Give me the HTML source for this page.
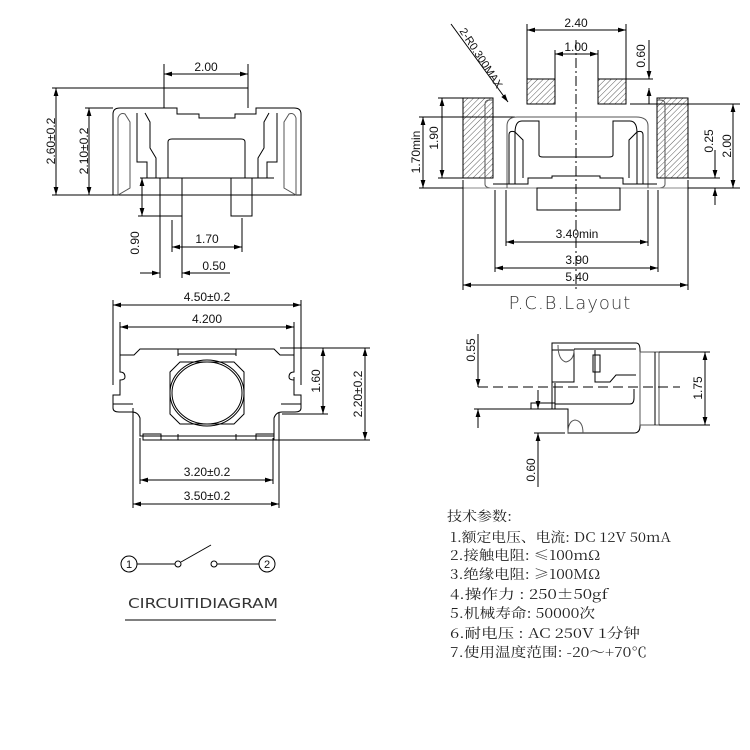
<!DOCTYPE html>
<html><head><meta charset="utf-8"><style>
html,body{margin:0;padding:0;background:#fff;}
svg{display:block;}
.d{font-family:"Liberation Sans",sans-serif;font-size:12px;fill:#111;}
.t{font-family:"Noto Serif CJK SC",serif;font-size:13.5px;fill:#222;}
</style></head><body>
<svg width="750" height="750" viewBox="0 0 750 750" xmlns="http://www.w3.org/2000/svg">
<defs>
<marker id="a" viewBox="0 0 10 6" refX="10" refY="3" markerWidth="8" markerHeight="5" orient="auto-start-reverse"><path d="M0,0L10,3L0,6z" fill="#000"/></marker>
<pattern id="h" width="4" height="4" patternUnits="userSpaceOnUse" patternTransform="rotate(45)"><line x1="0" y1="0" x2="0" y2="4" stroke="#333" stroke-width="0.8"/></pattern>
</defs>
<g stroke="#000" stroke-width="1" fill="none">
<!-- TOP LEFT VIEW -->
<line x1="164" y1="74" x2="248" y2="74" marker-start="url(#a)" marker-end="url(#a)"/>
<line x1="164" y1="64" x2="164" y2="108"/><line x1="248" y1="64" x2="248" y2="108"/>
<line x1="164" y1="88" x2="248" y2="88"/>
<line x1="52" y1="88" x2="164" y2="88"/>
<line x1="56" y1="88" x2="56" y2="195" marker-start="url(#a)" marker-end="url(#a)"/>
<line x1="85" y1="108" x2="113" y2="108"/>
<line x1="89" y1="108" x2="89" y2="195" marker-start="url(#a)" marker-end="url(#a)"/>
<line x1="52" y1="195" x2="160" y2="195"/>
<path d="M113,195 V114 Q113,108 120,108 H177 V114 H199 V118 H235 V114 H256 V108 H294 Q301,108 301,114 V195 Z"/>
<path d="M118,195 V118 Q120,112 125,114 L130,122 V188 Z" stroke="#555"/>
<path d="M296,195 V118 Q294,112 289,114 L284,122 V188 Z" stroke="#555"/>
<path d="M137,113 V162 H147 V178 M277,113 V162 H267 V178"/>
<path d="M145,113 L150,122 V148 L156,158 V178 M269,113 L264,122 V148 L258,158 V178"/>
<path d="M168,178 V142 Q168,139 172,139 H241 Q245,139 245,142 V178"/>
<line x1="140" y1="178" x2="274" y2="178"/>
<rect x="160" y="178" width="22" height="38"/><rect x="231" y="178" width="21" height="38"/>
<line x1="138" y1="216" x2="160" y2="216"/>
<line x1="142" y1="178" x2="142" y2="216" marker-start="url(#a)" marker-end="url(#a)"/>
<line x1="172" y1="220" x2="172" y2="252"/><line x1="242" y1="218" x2="242" y2="252"/>
<line x1="172" y1="247" x2="242" y2="247" marker-start="url(#a)" marker-end="url(#a)"/>
<line x1="160" y1="216" x2="160" y2="278"/><line x1="182" y1="216" x2="182" y2="278"/>
<line x1="140" y1="273" x2="160" y2="273" marker-end="url(#a)"/>
<line x1="226" y1="273" x2="182" y2="273" marker-end="url(#a)"/>
<line x1="182" y1="273" x2="230" y2="273"/>

<!-- TOP RIGHT PCB -->
<rect x="527" y="79" width="28" height="25" fill="url(#h)"/>
<rect x="598" y="79" width="28" height="25" fill="url(#h)"/>
<rect x="463" y="98" width="30" height="80" fill="url(#h)"/>
<rect x="657" y="98" width="31" height="80" fill="url(#h)"/>
<line x1="527" y1="24" x2="527" y2="79"/><line x1="626" y1="24" x2="626" y2="79"/>
<line x1="527" y1="30" x2="626" y2="30" marker-start="url(#a)" marker-end="url(#a)"/>
<line x1="555" y1="50" x2="555" y2="79"/><line x1="598" y1="50" x2="598" y2="79"/>
<line x1="555" y1="54" x2="598" y2="54" marker-start="url(#a)" marker-end="url(#a)"/>
<line x1="576" y1="40" x2="576" y2="292" stroke-dasharray="10,3,2,3"/>
<line x1="626" y1="79" x2="653" y2="79"/>
<line x1="649" y1="40" x2="649" y2="79" marker-end="url(#a)"/>
<line x1="649" y1="104" x2="649" y2="88" marker-end="url(#a)"/>
<line x1="630" y1="104" x2="740" y2="104"/>
<line x1="438" y1="98" x2="463" y2="98"/><line x1="438" y1="178" x2="463" y2="178"/>
<line x1="442" y1="98" x2="442" y2="178" marker-start="url(#a)" marker-end="url(#a)"/>
<line x1="419" y1="117" x2="515" y2="117"/><line x1="419" y1="188" x2="463" y2="188"/>
<line x1="423" y1="117" x2="423" y2="188" marker-start="url(#a)" marker-end="url(#a)"/>
<line x1="688" y1="178" x2="720" y2="178"/><line x1="688" y1="188" x2="740" y2="188"/>
<line x1="733" y1="104" x2="733" y2="188" marker-start="url(#a)" marker-end="url(#a)"/>
<line x1="715" y1="150" x2="715" y2="178" marker-end="url(#a)"/>
<line x1="715" y1="205" x2="715" y2="188" marker-end="url(#a)"/>
<path d="M485,184 V104 Q485,100 490,100 H493 M665,184 V104 Q665,100 660,100 H657" stroke="#555"/>
<path d="M485,184 Q485,188 492,188 H658 Q665,188 665,184" stroke="#555"/>
<line x1="463" y1="188" x2="688" y2="188" stroke="#888"/>
<path d="M507,188 V126 Q507,117 517,117 H636 Q648,117 648,126 V188" stroke="#555"/>
<path d="M515,184 V133 Q515,121 522,121 H539 V155 Q539,157 543,157 H609 Q613,157 613,155 V121 H630 Q637,121 637,133 V184"/>
<path d="M509,184 V135 Q509,130 515,132 L523,140 V178 M643,184 V135 Q643,130 637,132 L629,140 V178"/>
<path d="M493,184 H528 V178 H552 V176 H600 V178 H623 V184 H657"/>
<rect x="537" y="188" width="83" height="22"/>
<line x1="495" y1="190" x2="495" y2="272"/><line x1="658" y1="190" x2="658" y2="272"/>
<line x1="506" y1="190" x2="506" y2="246"/><line x1="648" y1="190" x2="648" y2="246"/>
<line x1="463" y1="180" x2="463" y2="290"/><line x1="688" y1="180" x2="688" y2="290"/>
<line x1="506" y1="242" x2="648" y2="242" marker-start="url(#a)" marker-end="url(#a)"/>
<line x1="495" y1="268" x2="658" y2="268" marker-start="url(#a)" marker-end="url(#a)"/>
<line x1="463" y1="285" x2="688" y2="285" marker-start="url(#a)" marker-end="url(#a)"/>
<line x1="451" y1="24" x2="508" y2="102" marker-end="url(#a)"/>

<!-- BOTTOM LEFT VIEW -->
<line x1="113" y1="300" x2="113" y2="385"/><line x1="301" y1="300" x2="301" y2="385"/>
<line x1="113" y1="305" x2="301" y2="305" marker-start="url(#a)" marker-end="url(#a)"/>
<line x1="120" y1="322" x2="120" y2="355"/><line x1="294" y1="322" x2="294" y2="355"/>
<line x1="120" y1="327" x2="294" y2="327" marker-start="url(#a)" marker-end="url(#a)"/>
<path d="M120,355 H134 L140,349 H274 L280,355 H294 V372 Q289,372 289,377 Q289,380 294,380 V377 L294,378 V395 H301 V408 Q301,412 295,412 H282 Q276,412 274,418 V436 H140 V418 Q138,412 132,412 H119 Q113,412 113,408 V395 H120 V380 Q125,380 125,377 Q125,372 120,372 Z"/>
<line x1="178" y1="349" x2="178" y2="356"/><line x1="236" y1="349" x2="236" y2="356"/><line x1="178" y1="354" x2="236" y2="354"/>
<path d="M170,372 L180,362 H234 L244,372 V414 L234,424 H180 L170,414 Z"/>
<ellipse cx="207" cy="393" rx="37" ry="33"/><ellipse cx="207" cy="393" rx="35" ry="31"/>
<rect x="143" y="434" width="18" height="6"/><rect x="256" y="434" width="18" height="6"/>
<line x1="178" y1="434" x2="178" y2="440"/><line x1="236" y1="434" x2="236" y2="440"/><line x1="143" y1="440" x2="274" y2="440"/>
<line x1="113" y1="404" x2="133" y2="404"/><line x1="281" y1="404" x2="301" y2="404"/>
<line x1="280" y1="348" x2="370" y2="348"/>
<line x1="282" y1="414" x2="328" y2="414"/><line x1="274" y1="440" x2="370" y2="440"/>
<line x1="323" y1="348" x2="323" y2="414" marker-start="url(#a)" marker-end="url(#a)"/>
<line x1="365" y1="348" x2="365" y2="440" marker-start="url(#a)" marker-end="url(#a)"/>
<line x1="140" y1="438" x2="140" y2="484"/><line x1="273" y1="438" x2="273" y2="484"/>
<line x1="140" y1="480" x2="273" y2="480" marker-start="url(#a)" marker-end="url(#a)"/>
<line x1="133" y1="408" x2="133" y2="508"/><line x1="279" y1="412" x2="279" y2="508"/>
<line x1="133" y1="504" x2="279" y2="504" marker-start="url(#a)" marker-end="url(#a)"/>

<!-- BOTTOM RIGHT SIDE -->
<path d="M552,343 H636 Q640,343 640,350 V426 Q640,433 634,433 H568 V409 H552 Z"/>
<rect x="640" y="352" width="19" height="73" stroke="#555"/>
<line x1="659" y1="352" x2="710" y2="352"/><line x1="659" y1="425" x2="710" y2="425"/>
<line x1="655" y1="352" x2="655" y2="425"/>
<line x1="705" y1="352" x2="705" y2="425" marker-start="url(#a)" marker-end="url(#a)"/>
<path d="M552,350 H574 V382 H552 M574,349 H636 M595,350 V382 H610 L616,375 H636 M593,355 H600 V372 H593 Z"/>
<path d="M555,383 V404 H630 Q634,404 634,398 V389"/>
<path d="M558,345 Q558,360 566,362 Q574,360 574,350" stroke="#555"/>
<path d="M568,433 Q568,421 575,420 Q583,421 583,433" stroke="#555"/>
<rect x="531" y="403" width="24" height="6"/>
<line x1="478" y1="387" x2="680" y2="387" stroke-dasharray="10,5"/>
<line x1="474" y1="409" x2="531" y2="409"/>
<line x1="478" y1="334" x2="478" y2="387" marker-end="url(#a)"/>
<line x1="478" y1="428" x2="478" y2="409" marker-end="url(#a)"/>
<line x1="538" y1="390" x2="538" y2="409" marker-end="url(#a)"/>
<line x1="534" y1="433" x2="565" y2="433"/>
<line x1="538" y1="487" x2="538" y2="433" marker-end="url(#a)"/>

<!-- CIRCUIT -->
<circle cx="129" cy="564" r="8"/><circle cx="267" cy="564" r="8"/>
<line x1="137" y1="564" x2="175" y2="564"/><circle cx="178" cy="564" r="3"/>
<line x1="181" y1="562" x2="211" y2="545"/>
<circle cx="214" cy="564" r="3"/><line x1="217" y1="564" x2="259" y2="564"/>
<line x1="125" y1="620" x2="276" y2="620"/>
</g>

<g class="d" text-anchor="middle">
<text x="206" y="71">2.00</text>
<text transform="translate(55,141) rotate(-90)">2.60±0.2</text>
<text transform="translate(88,151) rotate(-90)">2.10±0.2</text>
<text transform="translate(139,243) rotate(-90)">0.90</text>
<text x="207" y="243">1.70</text>
<text x="214" y="270">0.50</text>
<text x="576" y="27">2.40</text>
<text x="576" y="51">1.00</text>
<text transform="translate(645,56) rotate(-90)">0.60</text>
<text transform="translate(438,138) rotate(-90)">1.90</text>
<text transform="translate(420,152) rotate(-90)">1.70min</text>
<text transform="translate(713,141) rotate(-90)">0.25</text>
<text transform="translate(731,146) rotate(-90)">2.00</text>
<text x="577" y="238">3.40min</text>
<text x="577" y="264">3.90</text>
<text x="577" y="281">5.40</text>
<text transform="translate(478,60) rotate(57)" font-size="11">2-R0.300MAX</text>
<text x="207" y="301">4.50±0.2</text>
<text x="207" y="323">4.200</text>
<text transform="translate(320,381) rotate(-90)">1.60</text>
<text transform="translate(362,394) rotate(-90)">2.20±0.2</text>
<text x="207" y="476">3.20±0.2</text>
<text x="207" y="500">3.50±0.2</text>
<text transform="translate(475,350) rotate(-90)">0.55</text>
<text transform="translate(702,388) rotate(-90)">1.75</text>
<text transform="translate(535,470) rotate(-90)">0.60</text>
<text x="129" y="568" font-size="11">1</text>
<text x="267" y="568" font-size="11">2</text>
</g>
<text x="570" y="309" text-anchor="middle" font-family="DejaVu Sans,sans-serif" font-size="18" font-weight="200" fill="#333" letter-spacing="1">P.C.B.Layout</text>
<text x="128" y="608" font-family="DejaVu Sans,sans-serif" font-size="13.5" fill="#333" textLength="150" lengthAdjust="spacingAndGlyphs">CIRCUITIDIAGRAM</text>

<g class="t">
<text x="447" y="521" textLength="65" lengthAdjust="spacingAndGlyphs">技术参数:</text>
<text x="450" y="542" textLength="221" lengthAdjust="spacingAndGlyphs">1.额定电压、电流: DC 12V 50mA</text>
<text x="450" y="560" textLength="150" lengthAdjust="spacingAndGlyphs">2.接触电阻: ≤100mΩ</text>
<text x="450" y="579" textLength="150" lengthAdjust="spacingAndGlyphs">3.绝缘电阻: ≥100MΩ</text>
<text x="450" y="599" textLength="158" lengthAdjust="spacingAndGlyphs">4.操作力  : 250±50gf</text>
<text x="450" y="618" textLength="145" lengthAdjust="spacingAndGlyphs">5.机械寿命: 50000次</text>
<text x="450" y="638" textLength="190" lengthAdjust="spacingAndGlyphs">6.耐电压  : AC 250V 1分钟</text>
<text x="450" y="657" textLength="197" lengthAdjust="spacingAndGlyphs">7.使用温度范围: -20～+70℃</text>
</g>
</svg>
</body></html>
